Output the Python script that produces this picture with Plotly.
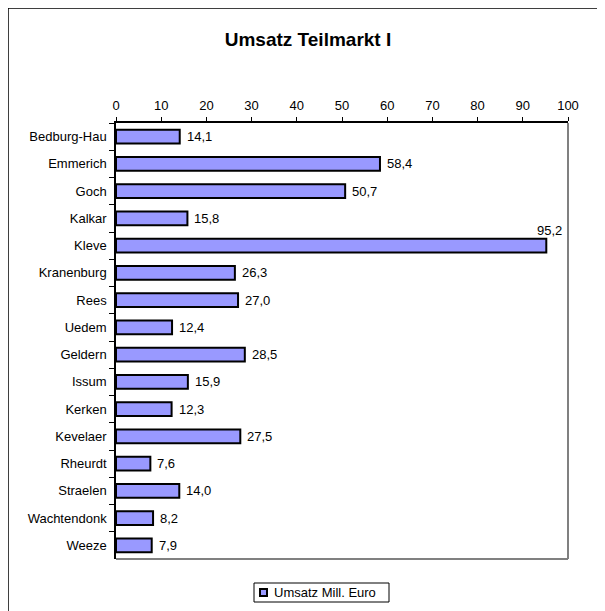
import plotly.graph_objects as go

categories = ["Bedburg-Hau", "Emmerich", "Goch", "Kalkar", "Kleve", "Kranenburg", "Rees",
              "Uedem", "Geldern", "Issum", "Kerken", "Kevelaer", "Rheurdt", "Straelen",
              "Wachtendonk", "Weeze"]
values = [14.1, 58.4, 50.7, 15.8, 95.2, 26.3, 27.0, 12.4, 28.5, 15.9, 12.3, 27.5, 7.6, 14.0, 8.2, 7.9]
series_name = "Umsatz Mill. Euro"
title = "Umsatz Teilmarkt I"
x_ticks = list(range(0, 101, 10))

FONT = "Liberation Sans, Arial, sans-serif"
OFF = 8  # browser default body margin
W, H = 605 - OFF, 611 - OFF
L, R, T, B = 116 - OFF, 568 - OFF, 123 - OFF, 559 - OFF
BAR_COLOR = "#9999FF"

labels = [f"{v:.1f}".replace(".", ",") for v in values]

fig = go.Figure()
fig.add_trace(go.Bar(
    y=categories, x=values, orientation="h", name=series_name,
    marker=dict(color=BAR_COLOR, line=dict(color="black", width=2)),
    width=0.5, showlegend=False, hoverinfo="skip",
))

def px_x(p):
    return (p - OFF - L) / (R - L)

def px_y(p):
    return (B - (p - OFF)) / (B - T)

annotations = []
for c, v, t in zip(categories, values, labels):
    if v > 90:
        annotations.append(dict(x=v, y=c, xref="x", yref="y", text=t, showarrow=False,
                                xanchor="center", yanchor="bottom", xshift=3, yshift=6,
                                font=dict(family=FONT, size=13, color="black")))
    else:
        annotations.append(dict(x=v, y=c, xref="x", yref="y", text=t, showarrow=False,
                                xanchor="left", yanchor="middle", xshift=5,
                                font=dict(family=FONT, size=13, color="black")))

# legend box (custom, Excel-like)
annotations.append(dict(x=px_x(272), y=px_y(592.5), xref="paper", yref="paper",
                        text=series_name, showarrow=False, xanchor="left", yanchor="middle",
                        font=dict(family=FONT, size=13, color="black")))

shapes = [
    # outer chart border (top/left visible)
    dict(type="rect", xref="paper", yref="paper",
         x0=px_x(OFF), x1=px_x(660), y0=px_y(660), y1=px_y(OFF),
         line=dict(color="black", width=1.5), fillcolor="rgba(0,0,0,0)", layer="below"),
    # plot area gray right/bottom border
    dict(type="line", xref="paper", yref="paper", x0=1, x1=1, y0=0, y1=1,
         line=dict(color="#808080", width=2)),
    dict(type="line", xref="paper", yref="paper", x0=0, x1=1, y0=0, y1=0,
         line=dict(color="#808080", width=2)),
    # legend box
    dict(type="rect", xref="paper", yref="paper",
         x0=px_x(254), x1=px_x(389), y0=px_y(602), y1=px_y(583),
         line=dict(color="black", width=1), fillcolor="white"),
    dict(type="rect", xref="paper", yref="paper",
         x0=px_x(260), x1=px_x(267), y0=px_y(596), y1=px_y(589),
         line=dict(color="black", width=2), fillcolor=BAR_COLOR),
]

fig.update_layout(
    width=W, height=H,
    margin=dict(l=L, r=W - R, t=T, b=H - B, pad=0),
    paper_bgcolor="white", plot_bgcolor="white",
    font=dict(family=FONT, size=13, color="black"),
    title=dict(text=f"<b>{title}</b>", x=px_x(308), xref="paper", xanchor="center",
               y=1 - (39 - OFF) / H, yanchor="middle", font=dict(size=19, family=FONT)),
    xaxis=dict(range=[0, 100], side="top", tickvals=x_ticks, ticks="outside", ticklen=4,
               tickcolor="black", showline=True, linecolor="black", linewidth=1.5,
               showgrid=False, zeroline=False, tickfont=dict(size=13), fixedrange=True,
               ticklabelstandoff=2),
    yaxis=dict(autorange="reversed", ticks="outside", ticklen=5, tickcolor="black",
               tickson="boundaries", showline=True, linecolor="black", linewidth=1.5,
               showgrid=False, tickfont=dict(size=13), fixedrange=True,
               ticklabelstandoff=5),
    annotations=annotations,
    shapes=shapes,
    showlegend=False,
)

fig.write_html("out.html")
